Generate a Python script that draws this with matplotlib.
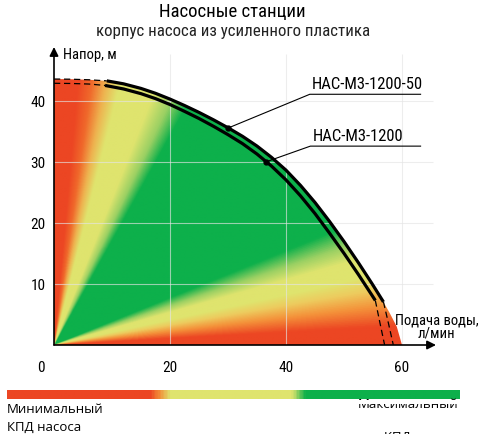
import matplotlib
matplotlib.use('Agg')
import matplotlib.pyplot as plt
import numpy as np
from matplotlib import font_manager
from matplotlib.colors import LinearSegmentedColormap
from matplotlib.patches import Polygon, Rectangle

# pump curves, Q in l/min, H in m
outer_top_q = [0, 3, 6, 9.1]
outer_top_h = [43.6, 43.57, 43.48, 43.3]
outer_q = [9.1, 12, 15, 17.5, 20, 22.5, 25, 27.5, 30, 32.5, 35, 37.5, 40,
           42.5, 45, 47.5, 50, 52.5, 54.8, 56.8]
outer_h = [43.3, 42.81, 42.06, 41.26, 40.31, 39.26, 38.13, 36.91, 35.61, 34.21, 32.61, 30.76, 28.66,
           26.16, 23.36, 20.26, 16.96, 13.46, 10.1, 7.06]
outer_tail_q = [56.8, 57.7, 58.5]
outer_tail_h = [7.06, 3.4, 0.0]

inner_top_q = [0, 3, 6, 8.8]
inner_top_h = [42.9, 42.87, 42.78, 42.55]
inner_q = [8.8, 12, 15, 17.5, 20, 22.5, 25, 27.5, 30, 32.5, 35, 37.5, 40,
           42.5, 45, 47.5, 50, 52.5, 54.8, 55.4]
inner_h = [42.55, 41.97, 41.2, 40.39, 39.42, 38.3, 37.13, 35.85, 34.48, 33.01, 31.3, 29.33, 27.06,
           24.45, 21.54, 18.34, 15.02, 11.53, 8.18, 7.3]
inner_tail_q = [55.4, 56.2, 57.0]
inner_tail_h = [7.3, 3.6, 0.0]

# edge of the coloured area below the outer curve
fill_tail_q = [57.9, 59.1, 60.0]
fill_tail_h = [5.2, 3.0, 0.0]

models = ['НАС-М3-1200-50', 'НАС-М3-1200']
marker_q = [30.05, 36.6]
marker_h = [35.58, 30.04]

x_ticks = [20, 40, 60]
y_ticks = [10, 20, 30, 40]

red = '#EC4623'
yellow = '#DFE46E'
green = '#0DB04B'
fan_deg = [0, 3, 6.5, 9.5, 12, 15.5, 18.5, 22, 61, 64.5, 68.5, 76, 79, 82, 85, 90]
fan_col = [red, red, '#F4923A', '#EDCB5E', yellow, yellow, '#9AD063', green, green,
           '#9AD063', yellow, yellow, '#EEB24F', '#F0692B', red, red]
bar_pos = [0, 0.316, 0.335, 0.36, 0.63, 0.66, 1.0]
bar_col = [red, red, '#F28C38', yellow, yellow, green, green]

names = {f.name for f in font_manager.fontManager.ttflist}
narrow = next((n for n in ['Liberation Sans Narrow', 'Roboto Condensed', 'DejaVu Sans Condensed']
               if n in names), 'Liberation Sans')
plain = 'Open Sans' if 'Open Sans' in names else 'DejaVu Sans'

W, H = 485, 435
fig = plt.figure(figsize=(W / 100, H / 100), dpi=100)
left, bottom, aw, ah = 54, 89, 382, 298
ax = fig.add_axes([left / W, bottom / H, aw / W, ah / H])
xmax, ymax = 65.86, 48.85
sx, sy = aw / xmax, ah / ymax

# colour fan from the origin
qq, hh = np.meshgrid(np.linspace(0, 60.5, 700), np.linspace(0, 44, 520))
ang = np.degrees(np.arctan2(hh * sy, qq * sx)) / 90
fan_cmap = LinearSegmentedColormap.from_list('fan', list(zip(np.array(fan_deg) / 90, fan_col)))
im = ax.imshow(ang, cmap=fan_cmap, vmin=0, vmax=1, extent=[0, 60.5, 0, 44],
               origin='lower', aspect='auto', interpolation='bilinear', zorder=1)
bq = [0] + outer_top_q + outer_q[1:] + fill_tail_q + [0]
bh = [0] + outer_top_h + outer_h[1:] + fill_tail_h + [0]
clip = Polygon(np.column_stack([bq, bh]), closed=True, transform=ax.transData,
               facecolor='none', edgecolor='none')
ax.add_patch(clip)
im.set_clip_path(clip)

# grid
ax.hlines(y_ticks, 0, 65.3, color='#e4e4e4', lw=0.8, alpha=0.65, zorder=2)
ax.vlines(x_ticks, 0, 47.7, color='#e4e4e4', lw=0.8, alpha=0.65, zorder=2)

# curves
for q, h in [(outer_q, outer_h), (inner_q, inner_h)]:
    ax.plot(q, h, color='black', lw=2.3, solid_capstyle='butt', solid_joinstyle='round', zorder=4)
for q, h in [(outer_top_q, outer_top_h), (inner_top_q, inner_top_h),
             (outer_tail_q, outer_tail_h), (inner_tail_q, inner_tail_h)]:
    ax.plot(q, h, color='black', lw=0.9, dashes=(5, 3), zorder=4)

ax.plot(marker_q, marker_h, 'o', color='black', ms=3.5, zorder=5)
knee_q = [44.1, 44.2]
knee_h = [41.1, 32.6]
for i, name in enumerate(models):
    ax.plot([marker_q[i], knee_q[i], 63.2], [marker_h[i], knee_h[i], knee_h[i]],
            color='black', lw=0.8, zorder=5, clip_on=False)
    ax.text(knee_q[i] + 0.4, knee_h[i] + 0.5, name, family=narrow, fontsize=12,
            ha='left', va='bottom', zorder=6)

# axes with arrows
for s in ax.spines.values():
    s.set_visible(False)
ax.set_xlim(0, xmax)
ax.set_ylim(0, ymax)
ax.annotate('', xy=(xmax, 0), xytext=(0, 0),
            arrowprops=dict(arrowstyle='-|>', color='black', lw=1.2, mutation_scale=13,
                            shrinkA=0, shrinkB=0), annotation_clip=False, zorder=6)
ax.annotate('', xy=(0, ymax), xytext=(0, 0),
            arrowprops=dict(arrowstyle='-|>', color='black', lw=1.2, mutation_scale=13,
                            shrinkA=0, shrinkB=0), annotation_clip=False, zorder=6)

ax.set_xticks(x_ticks)
ax.set_yticks(y_ticks)
ax.tick_params(length=0, labelsize=11)
ax.tick_params(axis='x', pad=11)
ax.tick_params(axis='y', pad=6)
for lab in ax.get_xticklabels() + ax.get_yticklabels():
    lab.set_family(narrow)
ax.annotate('0', xy=(0, 0), xytext=(-9.5, -16), textcoords='offset points',
            ha='center', va='center', family=narrow, fontsize=11)

ax.text(1.6, 47.7, 'Напор, м', family=narrow, fontsize=10.5, ha='left', va='center')
ax.text(66.0, 3.1, 'Подача воды,\nл/мин', family=narrow, fontsize=10.5, ha='center',
        va='center', multialignment='center', linespacing=0.85)

# titles
fig.text(232 / W, 1 - 12.5 / H, 'Насосные станции', family=narrow, fontsize=13.5,
         ha='center', va='center')
fig.text(233 / W, 1 - 31.5 / H, 'корпус насоса из усиленного пластика', family=narrow,
         fontsize=12.2, ha='center', va='center', color='#222222')

# efficiency scale
bar = fig.add_axes([7 / W, 1 - 400 / H, 453 / W, 9 / H])
bar_cmap = LinearSegmentedColormap.from_list('bar', list(zip(bar_pos, bar_col)))
bar.imshow(np.linspace(0, 1, 400)[None, :], cmap=bar_cmap, aspect='auto')
bar.axis('off')

fig.text(7 / W, 1 - 410 / H, 'Минимальный', family=plain, fontsize=9.5, ha='left', va='center')
fig.text(7 / W, 1 - 427.5 / H, 'КПД насоса', family=plain, fontsize=9.5, ha='left', va='center')
fig.text(458 / W, 1 - 405 / H, 'Максимальный', family=plain, fontsize=9.5, ha='right', va='center')
fig.text(458 / W, 1 - 431 / H, 'КПД насоса', family=plain, fontsize=9.5, ha='right', va='top')
fig.patches.append(Rectangle((330 / W, 1 - 405 / H), 140 / W, 4.2 / H,
                             transform=fig.transFigure, facecolor='white', edgecolor='none',
                             zorder=10))

fig.savefig('out.png', dpi=100)
